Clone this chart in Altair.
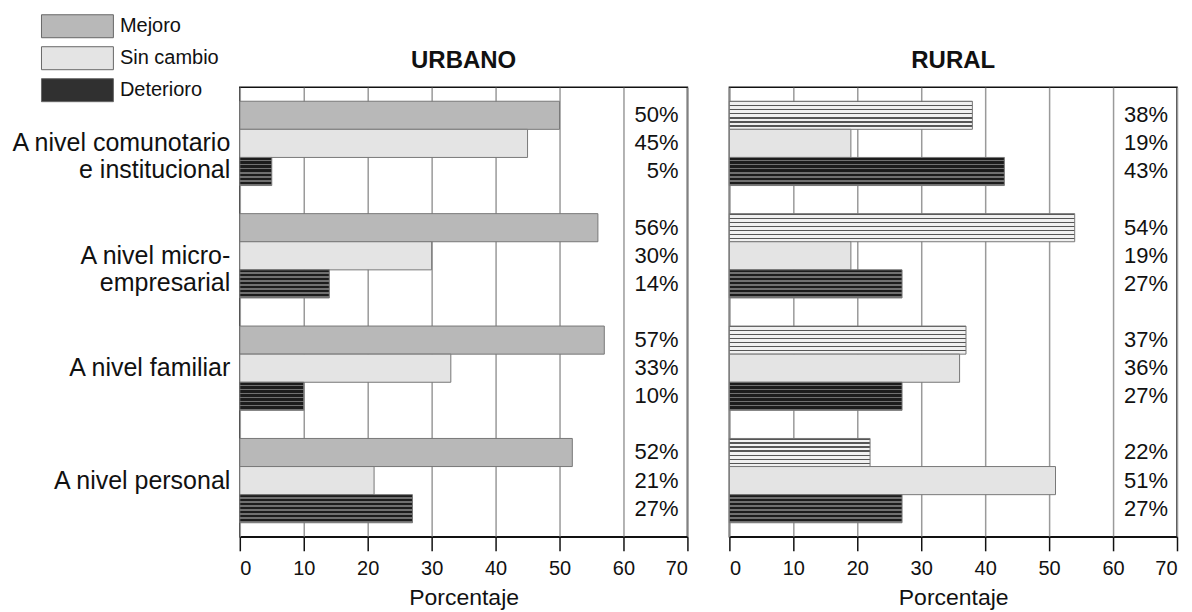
import altair as alt
import pandas as pd

categorias = ["A nivel comunotario|e institucional", "A nivel micro-|empresarial",
              "A nivel familiar", "A nivel personal"]
series = ["Mejoro", "Sin cambio", "Deterioro"]

urbano_mejoro = [50, 56, 57, 52]
urbano_sin_cambio = [45, 30, 33, 21]
urbano_deterioro = [5, 14, 10, 27]

rural_mejoro = [38, 54, 37, 22]
rural_sin_cambio = [19, 19, 36, 51]
rural_deterioro = [43, 27, 27, 27]

rows = []
for zona, vals in [("URBANO", [urbano_mejoro, urbano_sin_cambio, urbano_deterioro]),
                   ("RURAL", [rural_mejoro, rural_sin_cambio, rural_deterioro])]:
    for s, arr in zip(series, vals):
        for c, v in zip(categorias, arr):
            rows.append({"zona": zona, "categoria": c, "serie": s, "valor": v,
                         "etiqueta": f"{v}%"})
df = pd.DataFrame(rows)

FONT = "Liberation Sans"


def stripes(dark, light, n, frac):
    stops = []
    for i in range(n):
        a = i / n
        b = (i + frac) / n
        c = (i + 1) / n
        stops += [{"offset": a, "color": dark}, {"offset": b, "color": dark},
                  {"offset": b, "color": light}, {"offset": c, "color": light}]
    return {"gradient": "linear", "x1": 0, "y1": 0, "x2": 0, "y2": 1, "stops": stops}


grad_det = stripes("#1c1c1c", "#707070", 7, 0.6)
grad_rural_mej = stripes("#555555", "#f0f0f0", 7, 0.3)

fill_scale = alt.Scale(domain=series, range=["#b8b8b8", "#e4e4e4", "#303030"])

legend = alt.Legend(
    title=None, orient="none", legendX=-199, legendY=-73,
    symbolType="M-1,-1H5.26V1H-1Z", symbolSize=529,
    symbolStrokeColor="#666666", symbolStrokeWidth=1, symbolOpacity=1,
    labelFontSize=20, labelFont=FONT, labelColor="#111111",
    labelOffset=55, rowPadding=4, padding=0,
)


def panel(zona, show_y):
    base = alt.Chart(df).transform_filter(alt.datum.zona == zona)
    if show_y:
        yaxis = alt.Axis(title=None, domain=False, ticks=False, labelFontSize=25,
                         labelFont=FONT, labelColor="#111111", labelPadding=10,
                         labelLineHeight=27, labelLimit=0,
                         labelExpr="split(datum.label, '|')")
    else:
        yaxis = None
    y = alt.Y("categoria:N", sort=categorias, axis=yaxis,
              scale=alt.Scale(paddingInner=0.25, paddingOuter=0.125))
    yoff = alt.YOffset("serie:N", sort=series,
                       scale=alt.Scale(paddingInner=0, paddingOuter=0))
    conds = [{"test": "datum.serie === 'Deterioro'", "value": grad_det}]
    if zona == "RURAL":
        conds.append({"test": "datum.serie === 'Mejoro'", "value": grad_rural_mej})
    fill = alt.Fill("serie:N", scale=fill_scale, legend=legend, condition=conds)
    x = alt.X("valor:Q", scale=alt.Scale(domain=[0, 70], nice=False),
              axis=alt.Axis(values=[0, 10, 20, 30, 40, 50, 60, 70], title="Porcentaje",
                            titleFontSize=23, titleFontWeight="normal", titleFont=FONT,
                            titleColor="#111111", titlePadding=8,
                            labelFontSize=20, labelFont=FONT, labelColor="#111111",
                            labelPadding=8, tickSize=14, tickColor="#111111",
                            tickWidth=1.5, domainColor="#111111", domainWidth=1.5,
                            grid=True, gridColor="#9a9a9a", gridWidth=1.5))
    bars = base.mark_bar(stroke="#777777", strokeWidth=1, opacity=1).encode(
        x=x, y=y, yOffset=yoff, fill=fill)
    text = base.mark_text(align="right", baseline="middle", dx=-9, fontSize=22,
                          font=FONT, color="#111111").encode(
        x=alt.datum(70), y=y, yOffset=yoff, text="etiqueta:N")
    return alt.layer(bars, text).properties(
        width=448, height=450,
        title=alt.TitleParams(zona, fontSize=24, fontWeight="bold", font=FONT,
                              color="#111111", offset=14))


chart = alt.hconcat(panel("URBANO", True), panel("RURAL", False), spacing=42,
                    bounds="flush").properties(
    padding={"left": 1, "top": 6, "right": 5, "bottom": 5}
).configure_view(stroke="#111111", strokeWidth=1.5)

chart.save("out.html", embed_options={"renderer": "svg", "actions": False})
